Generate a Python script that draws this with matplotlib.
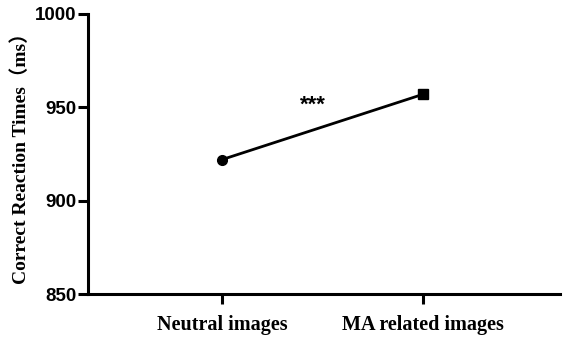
import matplotlib
matplotlib.use('Agg')
import matplotlib.pyplot as plt

# data
conditions = ['Neutral images', 'MA related images']
rt_means = [922, 957]
markers = ['o', 's']
y_ticks = [850, 900, 950, 1000]

fig = plt.figure(figsize=(5.67, 3.38), dpi=100)
ax = fig.add_axes([0.155, 0.130, 0.833, 0.829])

xs = list(range(len(conditions)))
ax.plot(xs, rt_means, color='black', linewidth=2.0, zorder=2)
for x, y, m in zip(xs, rt_means, markers):
    ax.plot(x, y, marker=m, color='black', markersize=7, zorder=3)

ax.text(0.45, 951, '***', ha='center', va='center', fontsize=16,
        fontweight='bold', family='Liberation Sans')

ax.set_xlim(-0.667, 1.68)
ax.set_ylim(850, 1000)
ax.set_yticks(y_ticks)
ax.set_xticks(xs)
ax.set_xticklabels(conditions, family='Liberation Serif', fontweight='bold', fontsize=14.5)
for lab in ax.get_yticklabels():
    lab.set_family('Liberation Sans')
    lab.set_fontweight('bold')
    lab.set_fontsize(13.5)
ax.tick_params(width=2.2, length=7, pad=1)
ax.tick_params(axis='x', pad=8)

ax.set_ylabel('Correct Reaction Times\uff08ms\uff09', family=['Liberation Serif', 'Noto Sans CJK SC'],
              fontweight='bold', fontsize=14, labelpad=4)

for s in ('top', 'right'):
    ax.spines[s].set_visible(False)
for s in ('left', 'bottom'):
    ax.spines[s].set_linewidth(2.2)

fig.savefig('out.png', dpi=100, facecolor='white')
